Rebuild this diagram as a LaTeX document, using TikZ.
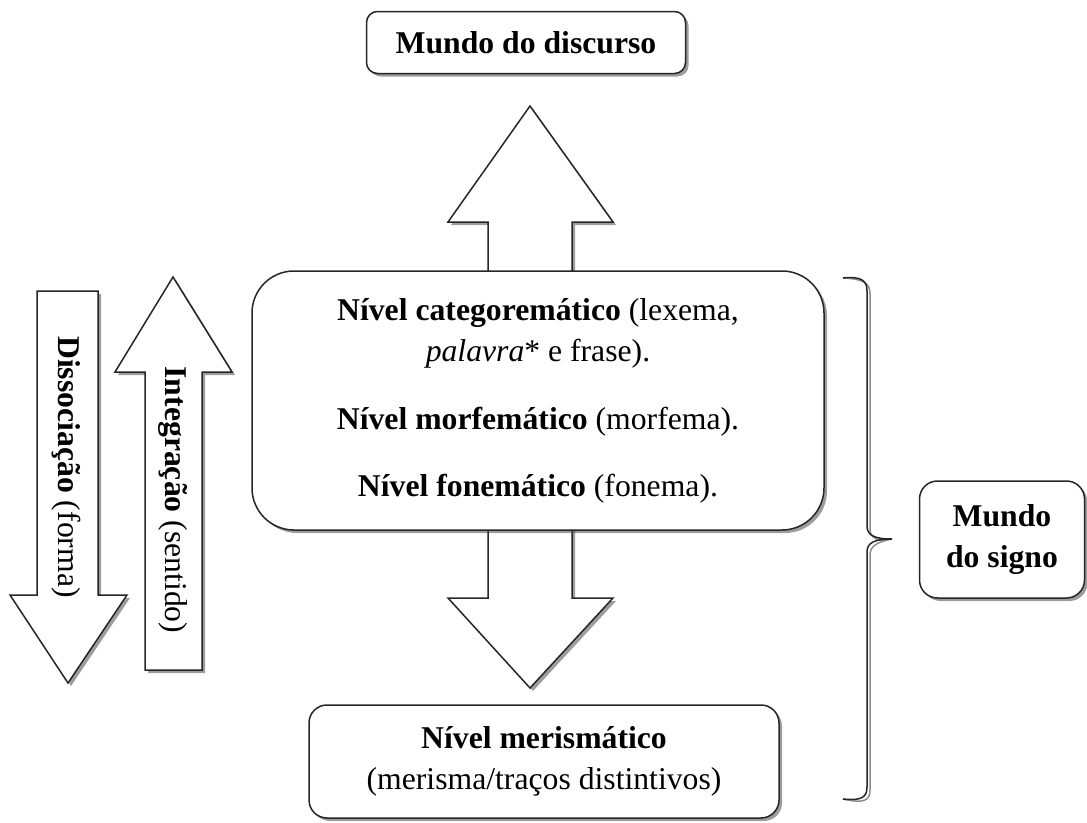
\documentclass[tikz,border=0pt]{standalone}
\usepackage{fontspec}
\setmainfont{Liberation Serif}
\usetikzlibrary{shadows,calc}
\begin{document}
\begin{tikzpicture}[x=1pt,y=-1pt,
  txt/.style={font=\fontsize{31.7}{41}\selectfont},
  shad/.style={drop shadow={shadow xshift=3pt,shadow yshift=-3pt,opacity=0.55,fill=black!70}},
  box/.style={draw=black!85,line width=1.5pt,fill=white,shad,inner sep=0pt,align=center,txt},
  blockarrow/.style={draw=black!85,line width=1.5pt,fill=white,shad,line join=miter},
  lbl/.style={txt,inner sep=0pt,rotate=-90}]
\useasboundingbox (0,0) rectangle (1087,822);

% side arrows
\draw[blockarrow] (37,291) -- (98,291) -- (98,595) -- (127,595) -- (68,683) -- (10,595) -- (37,595) -- cycle;
\node[lbl] (dis) at (66,467) {\textbf{Dissociação} (forma)};
\draw[blockarrow] (145,670) -- (145,372) -- (115,372) -- (173,277) -- (232,372) -- (202,372) -- (202,670) -- cycle;
\node[lbl] (int) at (173,500) {\textbf{Integração} (sentido)};

% central block arrows (drawn before the boxes they leave)
\coordinate (ub) at (530,290);
\coordinate (db) at (530,510);
\draw[blockarrow] ($(ub)+(-42,0)$) -- (488,222) -- (448,222) -- (530,106) -- (613,222) -- (572,222) -- ($(ub)+(42,0)$);
\draw[blockarrow] ($(db)+(-42,0)$) -- (488,598) -- (448,598) -- (530,688) -- (613,598) -- (572,598) -- ($(db)+(42,0)$);

% boxes
\node[box,rounded corners=11pt,minimum width=319pt,minimum height=62pt] (disc) at (526,42.5) {\bfseries Mundo do discurso};
\node[box,rounded corners=42pt,minimum width=572pt,minimum height=259pt] (lv) at (538,400.5)
  {\textbf{Nível categoremático} (lexema,\\ \textit{palavra}* e frase).\\[27pt]
   \textbf{Nível morfemático} (morfema).\\[26pt]
   \textbf{Nível fonemático} (fonema).};
\node[box,rounded corners=18pt,minimum width=470pt,minimum height=113pt] (mer) at (544,761.5)
  {\textbf{Nível merismático}\\(merisma/traços distintivos)};
\node[box,rounded corners=18pt,minimum width=165pt,minimum height=117pt] (sig) at (1002,539.5)
  {\textbf{Mundo}\\\textbf{do signo}};

% brace
\coordinate (bt) at (843,278);
\coordinate (bb) at (843,799);
\coordinate (bm) at (892,539);
\draw[black!45,line width=1.5pt,shift={(3pt,-3pt)}]
  (bt) .. controls (862,276) and (867,281) .. (867,291) -- (867,526)
  .. controls (867,535) and (874,539) .. (bm) .. controls (874,539) and (867,543) .. (867,552)
  -- (867,787) .. controls (867,797) and (862,801) .. (bb);
\draw[black!85,line width=1.5pt]
  (bt) .. controls (862,276) and (867,281) .. (867,291) -- (867,526)
  .. controls (867,535) and (874,539) .. (bm) .. controls (874,539) and (867,543) .. (867,552)
  -- (867,787) .. controls (867,797) and (862,801) .. (bb);
\end{tikzpicture}
\end{document}
